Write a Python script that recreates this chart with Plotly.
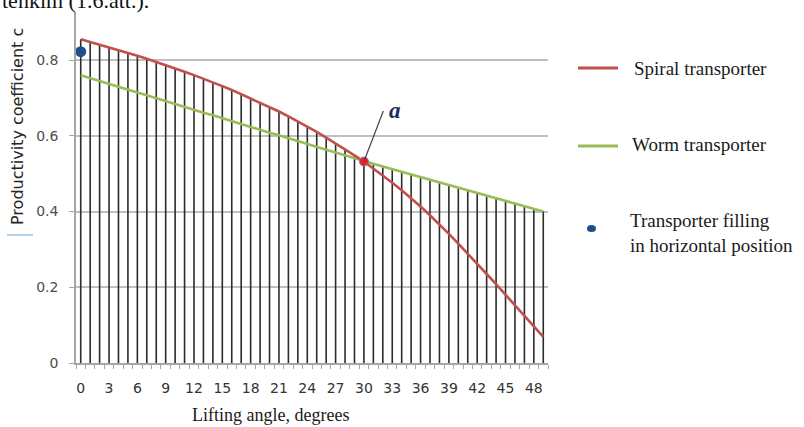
import numpy as np
import plotly.graph_objects as go

# Lifting angle, degrees (one category per degree)
angles = list(range(50))

# Productivity coefficient of the spiral transporter
spiral = [0.855, 0.848, 0.841, 0.833, 0.826, 0.818, 0.811, 0.803, 0.795, 0.787,
          0.778, 0.769, 0.760, 0.751, 0.741, 0.731, 0.721, 0.710, 0.699, 0.688,
          0.676, 0.664, 0.651, 0.638, 0.624, 0.610, 0.595, 0.580, 0.564, 0.548,
          0.532, 0.514, 0.495, 0.476, 0.456, 0.435, 0.413, 0.390, 0.366, 0.341,
          0.315, 0.289, 0.262, 0.235, 0.208, 0.180, 0.152, 0.124, 0.096, 0.069]

# Productivity coefficient of the worm transporter
worm = [0.760, 0.752, 0.745, 0.737, 0.730, 0.722, 0.714, 0.707, 0.699, 0.692,
        0.684, 0.676, 0.669, 0.661, 0.654, 0.646, 0.638, 0.631, 0.623, 0.616,
        0.608, 0.601, 0.593, 0.586, 0.578, 0.571, 0.563, 0.556, 0.548, 0.541,
        0.533, 0.526, 0.519, 0.512, 0.505, 0.498, 0.491, 0.484, 0.477, 0.470,
        0.463, 0.456, 0.449, 0.442, 0.435, 0.428, 0.421, 0.414, 0.407, 0.400]

# Filling of the transporter in horizontal position
fill_angle = [0]
fill_value = [0.822]

# Point "a" where both curves meet
cross_angle = 30

x_tick_vals = list(range(0, 49, 3))
x_tick_text = [str(v) for v in x_tick_vals]
y_tick_vals = [0, 0.2, 0.4, 0.6, 0.8]
y_tick_text = ["0", "0.2", "0.4", "0.6", "0.8"]

# Page geometry
W, H = 804, 427
ML, MR, MT, MB = 76, 256, 12, 64
PW, PH = W - ML - MR, H - MT - MB
Y_TOP = PH / 378.75


def px(x):
    return (x - ML) / PW


def py(y):
    return (H - MB - y) / PH


SERIF = "Liberation Serif, Times New Roman, serif"
SANS = "DejaVu Sans, Verdana, sans-serif"
RED = "#C0504D"
GREEN = "#9BBB59"
BLUE = "#1F4E8C"

fig = go.Figure()

# Drop lines from the upper of the two curves down to the axis
tops = np.maximum(np.array(spiral), np.array(worm))
dx, dy = [], []
for a, t in zip(angles, tops):
    dx += [a, a, None]
    dy += [0, t, None]
fig.add_trace(go.Scatter(x=dx, y=dy, mode="lines", hoverinfo="skip",
                         line=dict(color="#2b2b2b", width=1.6), showlegend=False))

fig.add_trace(go.Scatter(x=angles, y=worm, mode="lines", name="Worm transporter",
                         line=dict(color=GREEN, width=2.6), showlegend=False))
fig.add_trace(go.Scatter(x=angles, y=spiral, mode="lines", name="Spiral transporter",
                         line=dict(color=RED, width=2.6), showlegend=False))

fig.add_trace(go.Scatter(x=fill_angle, y=fill_value, mode="markers",
                         marker=dict(color=BLUE, size=11), showlegend=False))

cross_value = spiral[angles.index(cross_angle)]
fig.add_trace(go.Scatter(x=[cross_angle], y=[cross_value], mode="markers",
                         marker=dict(color="#FF1A1A", size=9,
                                     line=dict(color="#5B8BD0", width=1)),
                         showlegend=False))

shapes = []
annotations = []

# White text box behind the "a" label
shapes.append(dict(type="rect", xref="paper", yref="paper",
                   x0=px(389), x1=px(446), y0=py(142), y1=py(100),
                   fillcolor="white", line=dict(width=0), layer="between"))

# Leader line to point a
annotations.append(dict(x=cross_angle, y=cross_value, xref="x", yref="y",
                        text="", showarrow=True, arrowhead=0, arrowwidth=1.2,
                        arrowcolor="#444444", ax=20, ay=-52, standoff=0))
annotations.append(dict(x=px(395), y=py(110), xref="paper", yref="paper",
                        text="<b><i>a</i></b>", showarrow=False,
                        font=dict(family=SERIF, size=23, color="#1F2A5C"),
                        xanchor="center", yanchor="middle"))

# Legend
shapes.append(dict(type="line", xref="paper", yref="paper",
                   x0=px(578), x1=px(618), y0=py(68), y1=py(68),
                   line=dict(color=RED, width=3)))
shapes.append(dict(type="line", xref="paper", yref="paper",
                   x0=px(578), x1=px(618), y0=py(146), y1=py(146),
                   line=dict(color=GREEN, width=3)))
shapes.append(dict(type="circle", xref="paper", yref="paper",
                   x0=px(587), x1=px(596), y0=py(225), y1=py(232),
                   fillcolor=BLUE, line=dict(width=0)))
legend_items = [("Spiral transporter", 632, 68),
                ("Worm transporter", 630, 145),
                ("Transporter filling<br>in horizontal position", 628, 233)]
for txt, lx, ly in legend_items:
    annotations.append(dict(x=px(lx), y=py(ly), xref="paper", yref="paper",
                            text=txt, showarrow=False, align="left",
                            font=dict(family=SERIF, size=19, color="#1a1a1a"),
                            xanchor="left", yanchor="middle"))

# Axis titles
annotations.append(dict(x=px(17), y=py(127), xref="paper", yref="paper",
                        text="Productivity coefficient c", textangle=-90,
                        showarrow=False,
                        font=dict(family=SANS, size=16, color="#262626"),
                        xanchor="center", yanchor="middle"))
shapes.append(dict(type="line", xref="paper", yref="paper",
                   x0=px(7), x1=px(33), y0=py(235), y1=py(235),
                   line=dict(color="#9DC3E6", width=1.5)))
annotations.append(dict(x=px(270), y=py(415), xref="paper", yref="paper",
                        text="Lifting angle, degrees", showarrow=False,
                        font=dict(family=SERIF, size=18, color="#1a1a1a"),
                        xanchor="center", yanchor="middle"))

# Caption line of the surrounding text
annotations.append(dict(x=px(0), y=py(1), xref="paper", yref="paper",
                        text="tenkim (1.6.att.).", showarrow=False,
                        font=dict(family=SERIF, size=22, color="#111111"),
                        xanchor="left", yanchor="middle"))

fig.update_layout(
    width=W, height=H,
    margin=dict(l=ML, r=MR, t=MT, b=MB, pad=0),
    paper_bgcolor="white", plot_bgcolor="white",
    shapes=shapes, annotations=annotations,
    xaxis=dict(range=[-0.5, 49.5], tickmode="array", tickvals=x_tick_vals,
               ticktext=x_tick_text, ticks="", showgrid=False, zeroline=False,
               showline=True, linecolor="#a6a6a6", linewidth=1.5,
               tickfont=dict(family=SANS, size=14, color="#333333"),
               ticklabelstandoff=11,
               minor=dict(ticks="outside", tick0=-0.5, dtick=1, ticklen=4,
                          tickcolor="#a6a6a6", showgrid=False)),
    yaxis=dict(range=[0, Y_TOP], tickmode="array", tickvals=y_tick_vals,
               ticktext=y_tick_text, ticks="outside", ticklen=5,
               tickcolor="#a6a6a6", showgrid=True, gridcolor="#bfbfbf",
               gridwidth=1.5, zeroline=False, showline=True,
               linecolor="#a6a6a6", linewidth=1.5,
               tickfont=dict(family=SANS, size=14, color="#4d4d4d"),
               ticklabelstandoff=8),
)

fig.write_html("out.html")
